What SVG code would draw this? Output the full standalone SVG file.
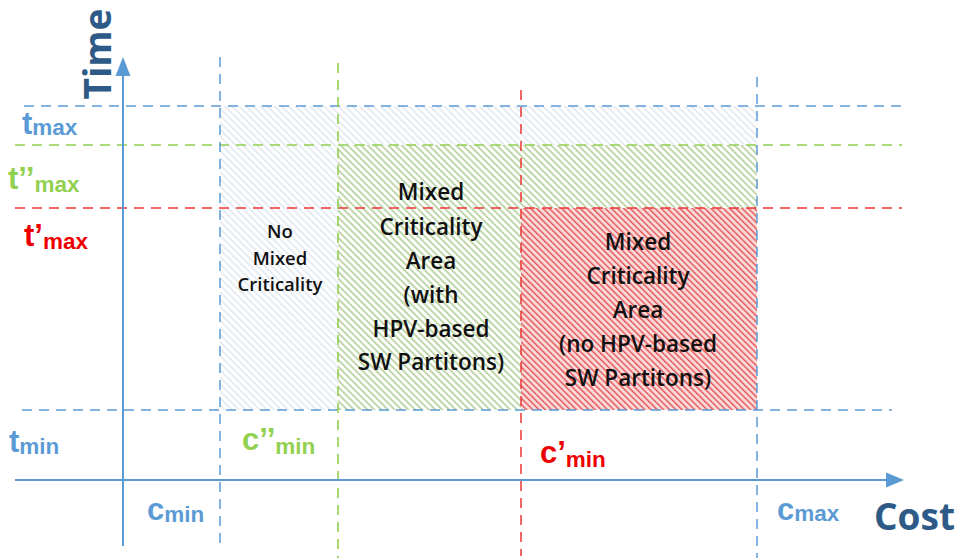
<svg xmlns="http://www.w3.org/2000/svg" width="958" height="558" viewBox="0 0 958 558">
<defs>
<pattern id="hBlue" patternUnits="userSpaceOnUse" width="5" height="5" patternTransform="rotate(45)">
<rect width="5" height="5" fill="#ffffff"/>
<line x1="0" y1="1" x2="5" y2="1" stroke="#d3deea" stroke-width="1.1"/>
</pattern>
<pattern id="hGreen" patternUnits="userSpaceOnUse" width="4.8" height="4.8" patternTransform="rotate(45)">
<rect width="4.8" height="4.8" fill="#ffffff"/>
<line x1="0" y1="1" x2="4.8" y2="1" stroke="#9fc47e" stroke-width="1.3"/>
</pattern>
<pattern id="hRed" patternUnits="userSpaceOnUse" width="4.4" height="4.4" patternTransform="rotate(45)">
<rect width="4.4" height="4.4" fill="#f9d9d9"/>
<line x1="0" y1="1" x2="4.4" y2="1" stroke="#e24a4a" stroke-width="1.3"/>
</pattern>
<style>
.dB{stroke:#5b9bd5;stroke-width:1.5;stroke-dasharray:10 7;fill:none}
.dG{stroke:#92d050;stroke-width:1.6;stroke-dasharray:10 7;fill:none}
.dR{stroke:#ee3535;stroke-width:1.5;stroke-dasharray:10 7;fill:none}
.ax{stroke:#5b9bd5;stroke-width:2;fill:none}
.lbl{font-family:"Liberation Sans",Arial,sans-serif;font-weight:bold}
.area{font-family:"Open Sans","Liberation Sans",sans-serif;font-weight:600;fill:#111;text-anchor:middle}
.big{font-family:"Open Sans","Liberation Sans",sans-serif;font-weight:700;fill:#2e5a87}
</style>
</defs>
<rect width="958" height="558" fill="#ffffff"/>

<g id="region-no-mixed">
<rect x="220" y="106" width="537" height="304" fill="url(#hBlue)"/>
</g>
<g id="region-mixed-hpv">
<rect x="338" y="145" width="419" height="265" fill="url(#hGreen)"/>
</g>
<g id="region-mixed-no-hpv">
<rect x="521" y="208" width="236" height="202" fill="url(#hRed)"/>
</g>

<g id="connectors">
<line class="dB" x1="24" y1="106" x2="902" y2="106"/>
<line class="dG" x1="15" y1="145" x2="902" y2="145"/>
<line class="dR" x1="15" y1="208" x2="902" y2="208"/>
<line class="dB" x1="22" y1="410" x2="892" y2="410"/>
<line class="dB" x1="220" y1="57" x2="220" y2="550"/>
<line class="dB" x1="757" y1="77" x2="757" y2="558"/>
<line class="dG" x1="338" y1="63" x2="338" y2="558"/>
<line class="dR" x1="521" y1="90" x2="521" y2="556"/>
</g>

<g id="axes">
<line class="ax" x1="123" y1="546" x2="123" y2="72"/>
<polygon points="123,57 115.5,76 130.5,76" fill="#5b9bd5"/>
<line class="ax" x1="15" y1="480" x2="889" y2="480"/>
<polygon points="904,480 886,472.5 886,487.5" fill="#5b9bd5"/>
<text class="big" font-size="37" transform="translate(111,54) rotate(-90)" text-anchor="middle">Time</text>
<text class="big" font-size="37" x="874" y="530">Cost</text>
</g>

<g id="labels" class="lbl">
<text x="22" y="134" fill="#5b9bd5" font-size="31">t<tspan font-size="22.5" dy="1">max</tspan></text>
<text x="8" y="189" fill="#92d050" font-size="31">t’’<tspan font-size="22.5" dy="3">max</tspan></text>
<text x="24" y="246" fill="#ee0000" font-size="31">t’<tspan font-size="22.5" dy="3">max</tspan></text>
<text x="9" y="452" fill="#5b9bd5" font-size="31">t<tspan font-size="22.5" dy="2">min</tspan></text>
<text x="147" y="520" fill="#5b9bd5" font-size="31">c<tspan font-size="22.5" dy="2">min</tspan></text>
<text x="242" y="450" fill="#92d050" font-size="31">c’’<tspan font-size="22.5" dy="4">min</tspan></text>
<text x="540" y="463" fill="#ee0000" font-size="31">c’<tspan font-size="22.5" dy="4">min</tspan></text>
<text x="777" y="520" fill="#5b9bd5" font-size="31">c<tspan font-size="22.5" dy="1">max</tspan></text>
</g>

<g id="text-no-mixed" class="area" font-size="18.5">
<text x="280" y="238">No</text>
<text x="280" y="265">Mixed</text>
<text x="280" y="291">Criticality</text>
</g>
<g id="text-mixed-hpv" class="area" font-size="22.5">
<text x="431" y="200">Mixed</text>
<text x="431" y="235">Criticality</text>
<text x="431" y="269">Area</text>
<text x="431" y="303">(with</text>
<text x="431" y="337">HPV-based</text>
<text x="431" y="370">SW Partitons)</text>
</g>
<g id="text-mixed-no-hpv" class="area" font-size="22.5">
<text x="638" y="250">Mixed</text>
<text x="638" y="284">Criticality</text>
<text x="638" y="318">Area</text>
<text x="638" y="352">(no HPV-based</text>
<text x="638" y="386">SW Partitons)</text>
</g>
</svg>
